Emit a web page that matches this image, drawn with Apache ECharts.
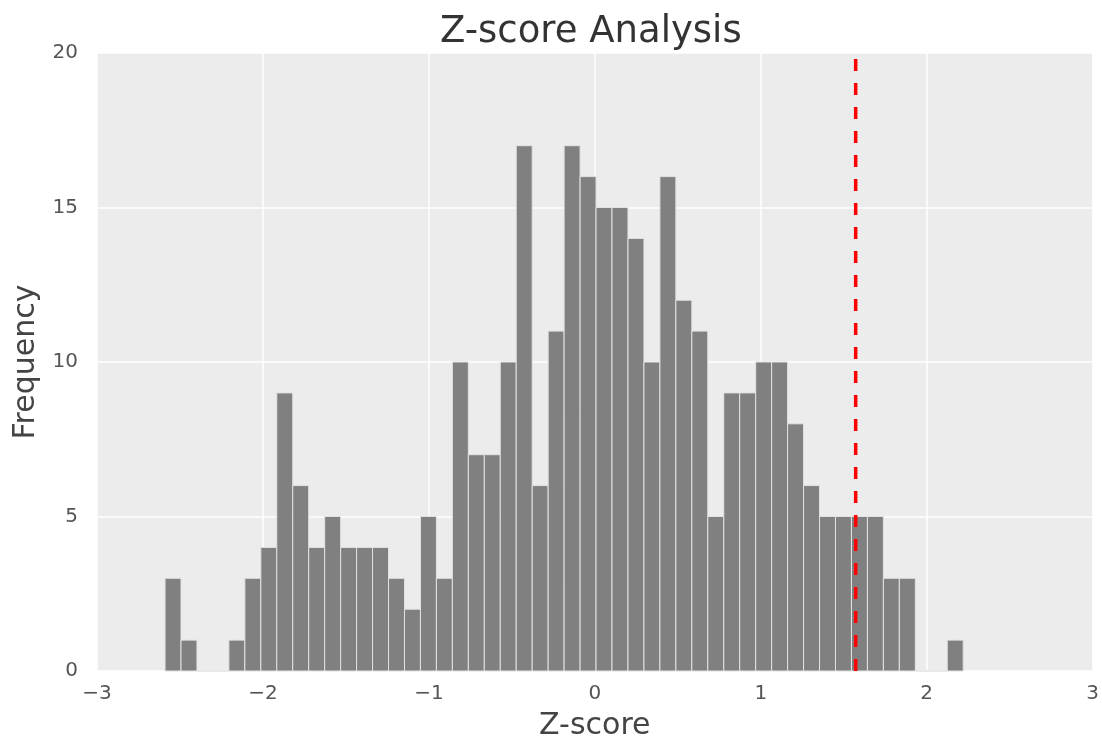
<!DOCTYPE html>
<html>
<head>
<meta charset="utf-8">
<title>Z-score Analysis</title>
<script src="https://cdn.jsdelivr.net/npm/echarts@6/dist/echarts.min.js"></script>
<style>
  html, body { margin: 0; padding: 0; background: #ffffff; }
  #chart { width: 1102px; height: 746px; }
</style>
</head>
<body>
<div id="chart"></div>
<script>
  // histogram counts, 50 bins from binStart
  var binStart = -2.59
  var binWidth = 0.0962
  var counts = [3, 1, 0, 0, 1, 3, 4, 9, 6, 4,
                5, 4, 4, 4, 3, 2, 5, 3, 10, 7,
                7, 10, 17, 6, 11, 17, 16, 15, 15, 14,
                10, 16, 12, 11, 5, 9, 9, 10, 10, 8,
                6, 5, 5, 5, 5, 3, 3, 0, 0, 1]
  var threshold = 1.572
  var xTicks = [-3, -2, -1, 0, 1, 2, 3]
  var yTicks = [0, 5, 10, 15, 20]

  var bins = counts.map(function (c, i) {
    var x0 = binStart + i * binWidth
    return [x0, x0 + binWidth, c]
  })

  var font = 'DejaVu Sans'
  var myChart = echarts.init(document.getElementById('chart'))

  myChart.setOption({
    animation: false,
    title: {
      text: 'Z-score Analysis',
      left: 435,
      top: 9,
      textStyle: { fontFamily: font, fontSize: 37, fontWeight: 'normal', color: '#333333' }
    },
    grid: {
      left: 97,
      right: 9,
      top: 53,
      bottom: 71,
      show: true,
      backgroundColor: '#ECECEC',
      borderWidth: 0
    },
    xAxis: {
      type: 'value',
      min: xTicks[0],
      max: xTicks[xTicks.length - 1],
      interval: 1,
      name: 'Z-score',
      nameLocation: 'middle',
      nameGap: 40,
      nameTextStyle: { fontFamily: font, fontSize: 30, color: '#444444' },
      axisLine: { show: false },
      axisTick: { show: false },
      axisLabel: {
        margin: 13,
        fontFamily: font,
        fontSize: 20,
        color: '#555555',
        formatter: function (v) { return String(v).replace('-', '\u2212') }
      },
      splitLine: { show: true, lineStyle: { color: '#ffffff', width: 1.5 } }
    },
    yAxis: {
      type: 'value',
      min: yTicks[0],
      max: yTicks[yTicks.length - 1],
      interval: 5,
      name: 'Frequency',
      nameLocation: 'middle',
      nameGap: 55,
      nameTextStyle: { fontFamily: font, fontSize: 30, color: '#444444' },
      axisLine: { show: false },
      axisTick: { show: false },
      axisLabel: { margin: 19, fontFamily: font, fontSize: 20, color: '#555555' },
      splitLine: { show: true, lineStyle: { color: '#ffffff', width: 1.5 } }
    },
    series: [
      {
        type: 'custom',
        data: bins,
        encode: { x: [0, 1], y: 2 },
        renderItem: function (params, api) {
          var p0 = api.coord([api.value(0), 0])
          var p1 = api.coord([api.value(1), api.value(2)])
          return {
            type: 'rect',
            shape: { x: p0[0], y: p1[1], width: p1[0] - p0[0], height: p0[1] - p1[1] },
            style: { fill: '#808080', stroke: '#E2E2E2', lineWidth: 1 }
          }
        },
        z: 2
      },
      {
        type: 'line',
        data: [[threshold, yTicks[0]], [threshold, yTicks[yTicks.length - 1]]],
        symbol: 'none',
        lineStyle: { color: '#ff0000', width: 3.5, type: [12, 12] },
        z: 3
      }
    ]
  })
</script>
</body>
</html>
